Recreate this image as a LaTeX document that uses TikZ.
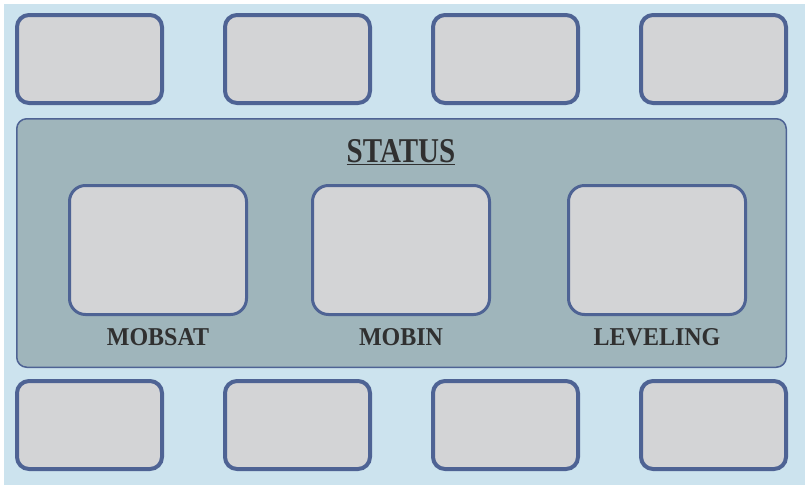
\documentclass[tikz,border=0pt]{standalone}
\usepackage{fontspec}
\setmainfont{Liberation Serif}
\usepackage{graphicx}
\usepackage{tikz}
\usetikzlibrary{positioning}

\definecolor{skyback}{HTML}{CCE3EE}
\definecolor{panelgrey}{HTML}{9FB5BB}
\definecolor{boxgrey}{HTML}{D3D4D6}
\definecolor{edgeblue}{HTML}{4E6394}
\definecolor{inkgrey}{HTML}{303030}

\begin{document}
\begin{tikzpicture}[x=1pt, y=-1pt,
            slot/.style={draw=edgeblue, fill=boxgrey, line width=4pt, rounded corners=12pt, minimum width=145pt, minimum height=88pt, inner sep=0pt},
            panel/.style={draw=edgeblue, fill=panelgrey, line width=1.5pt, rounded corners=10pt, minimum width=769.5pt, minimum height=248.5pt, inner sep=0pt},
            gauge/.style={draw=edgeblue, fill=boxgrey, line width=3pt, rounded corners=16pt, minimum width=177pt, minimum height=129pt, inner sep=0pt},
            lbl/.style={text=inkgrey, font=\fontsize{24}{24}\selectfont\bfseries, anchor=base, inner sep=0pt}
        ]
            \useasboundingbox (0,0) rectangle (805,485);
            \fill[skyback] (4,4) rectangle (805,485);

            \node[slot] (t1) at (89.5,59) {};
            \node[slot] (t2) at (297.5,59) {};
            \node[slot] (t3) at (505.5,59) {};
            \node[slot] (t4) at (713.5,59) {};

            \node[panel] (status) at (401.5,243) {};
            \node[lbl, font=\fontsize{29}{29}\selectfont\bfseries] (title) at (401,162) {\scalebox{1}[1.2]{\underline{STATUS}}};

            \node[gauge] (mobsat) at (158,250) {};
            \node[gauge] (mobin) at (401,250) {};
            \node[gauge] (leveling) at (657,250) {};
            \node[lbl] (mobsatlbl) at (158,345) {\scalebox{1}[1.07]{MOBSAT}};
            \node[lbl] (mobinlbl) at (401,345) {\scalebox{1}[1.07]{MOBIN}};
            \node[lbl] (levelinglbl) at (657,345) {\scalebox{1}[1.07]{LEVELING}};

            \node[slot] (b1) at (89.5,425) {};
            \node[slot] (b2) at (297.5,425) {};
            \node[slot] (b3) at (505.5,425) {};
            \node[slot] (b4) at (713.5,425) {};
        \end{tikzpicture}
\end{document}
